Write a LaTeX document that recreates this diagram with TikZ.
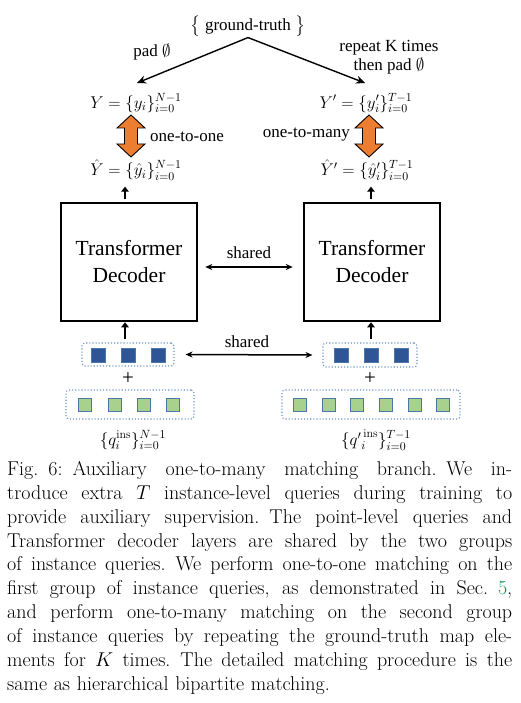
\RequirePackage{fix-cm}
\documentclass[tikz,border=0pt]{standalone}
\usepackage{amsmath}
\usepackage{fontspec}
\newfontfamily\figfont{Liberation Serif}
\usetikzlibrary{arrows.meta,positioning}

\definecolor{qblue}{HTML}{2F5597}
\definecolor{qedge}{HTML}{4A76A8}
\definecolor{qgreen}{HTML}{A9D18E}
\definecolor{dotblue}{HTML}{6A8FC0}
\definecolor{matchorange}{HTML}{ED7D31}
\definecolor{refgreen}{RGB}{0,150,70}

\newcommand{\capline}[1]{\hbox to 505pt{\spaceskip=0.3333em plus 1em minus 0.08em\relax#1}}

\tikzset{
  pics/matcharrow/.style={code={
    \draw[fill=matchorange,line width=0.9pt,line join=miter]
      (0,-21) -- (14,-8) -- (6.5,-8) -- (6.5,8) -- (14,8) -- (0,21)
      -- (-14,8) -- (-6.5,8) -- (-6.5,-8) -- (-14,-8) -- cycle;}}
}

\begin{document}
\begin{tikzpicture}[x=1pt,y=-1pt,
  lbl/.style={font=\figfont\fontsize{17}{19}\selectfont,inner sep=1pt},
  decbox/.style={draw,line width=2.6pt,minimum width=136pt,minimum height=118pt,
    align=center,font=\figfont\fontsize{21.5}{27}\selectfont},
  dotbox/.style={draw=dotblue,dotted,line width=1.1pt,rounded corners=3pt,inner sep=0pt},
  bsq/.style={draw=qedge,fill=qblue,line width=1pt,minimum size=14pt,inner sep=0pt},
  gsq/.style={draw=qedge,fill=qgreen,line width=1.2pt,minimum size=13pt,inner sep=0pt},
  gtarrow/.style={-{Stealth[length=9pt,width=8pt]},line width=1.4pt},
  sharearrow/.style={{Stealth[length=7pt,width=6pt]}-{Stealth[length=7pt,width=6pt]},line width=1.5pt},
  uparrow/.style={-{Triangle[length=5pt,width=7.5pt]},line width=2pt},
  captext/.style={font=\fontsize{20}{23.9}\selectfont,inner sep=0pt,text width=505pt,align=left}]
\useasboundingbox (0,0) rectangle (520,703);

% ground truth and padding
\node[lbl] (gt) at (248,26) {$\left\{\rule[-6pt]{0pt}{20pt}\right.$\,ground-truth\,$\left.\rule[-6pt]{0pt}{20pt}\right\}$};
\coordinate (tipL) at (137,83);
\coordinate (tipR) at (365,83);
\draw[gtarrow] (gt.south) -- (tipL);
\draw[gtarrow] (gt.south) -- (tipR);
\node[lbl] (padL) at (152,52) {pad $\emptyset$};
\node[lbl,align=center] (padR) at (389,57) {repeat K times\\then pad $\emptyset$};

% left branch: one-to-one
\node[lbl] (yL) at (136,103) {$Y=\{y_i\}_{i=0}^{N-1}$};
\pic at (131,136) {matcharrow};
\node[lbl,anchor=west] (o2o) at (149,137) {one-to-one};
\node[lbl] (yhatL) at (136,170) {$\hat{Y}=\{\hat{y}_i\}_{i=0}^{N-1}$};
\node[decbox] (decL) at (129,262) {Transformer\\Decoder};
\draw[uparrow] ([shift={(-4,-3)}]decL.north) -- ++(0,-12);

% right branch: one-to-many
\node[lbl] (yR) at (366,103) {$Y'=\{y'_i\}_{i=0}^{T-1}$};
\pic at (369,136) {matcharrow};
\node[lbl,anchor=east] (o2m) at (351,135) {one-to-many};
\node[lbl] (yhatR) at (367,170) {$\hat{Y}'=\{\hat{y}'_i\}_{i=0}^{T-1}$};
\node[decbox] (decR) at (372,262) {Transformer\\Decoder};
\draw[uparrow] ([shift={(-1,-3)}]decR.north) -- ++(0,-12);

\draw[sharearrow] ([shift={(7,5)}]decL.east) -- ([shift={(-10,5)}]decR.west);
\node[lbl] (sh1) at (249,253) {shared};

% point-level queries
\node[dotbox,minimum width=92pt,minimum height=23pt] (qbL) at (128,354.5) {};
\node[bsq] (bl1) at (98,355) {};
\node[bsq] (bl2) at (128,355) {};
\node[bsq] (bl3) at (158,355) {};
\node[dotbox,minimum width=94pt,minimum height=24pt] (qbR) at (370,355) {};
\node[bsq] (br1) at (341,355) {};
\node[bsq] (br2) at (371,355) {};
\node[bsq] (br3) at (401,355) {};
\draw[uparrow] ([shift={(-3,-3)}]qbL.north) -- ([xshift=-4]decL.south);
\draw[uparrow] ([shift={(1,-3)}]qbR.north) -- ([xshift=-1]decR.south);
\draw[sharearrow] ([xshift=11]qbL.east) -- ([xshift=-10]qbR.west);
\node[lbl] (sh2) at (247,342) {shared};

\node[lbl,font=\figfont\fontsize{21}{22}\selectfont] (plusL) at (128,379) {+};
\node[lbl,font=\figfont\fontsize{21}{22}\selectfont] (plusR) at (370,379) {+};

% instance queries
\node[dotbox,minimum width=128pt,minimum height=29pt] (qgL) at (130,404.5) {};
\node[gsq] (gl1) at (85,405) {};
\node[gsq] (gl2) at (115,405) {};
\node[gsq] (gl3) at (144,405) {};
\node[gsq] (gl4) at (173,405) {};
\node[dotbox,minimum width=178pt,minimum height=29pt] (qgR) at (371,404.5) {};
\node[gsq] (gr1) at (300,405) {};
\node[gsq] (gr2) at (329,405) {};
\node[gsq] (gr3) at (357,405) {};
\node[gsq] (gr4) at (386,405) {};
\node[gsq] (gr5) at (415,405) {};
\node[gsq] (gr6) at (443,405) {};
\node[lbl] (qL) at (133,440) {$\{q_i^{\mathrm{ins}}\}_{i=0}^{N-1}$};
\node[lbl] (qR) at (376,440) {$\{{q'}_i^{\,\mathrm{ins}}\}_{i=0}^{T-1}$};

% caption
\node[captext,anchor=north west] (cap) at (7,461) {%
\capline{Fig. 6: Auxiliary one-to-many matching branch. We in-}
\capline{troduce extra $T$ instance-level queries during training to}
\capline{provide auxiliary supervision. The point-level queries and}
\capline{Transformer decoder layers are shared by the two groups}
\capline{of instance queries. We perform one-to-one matching on the}
\capline{first group of instance queries, as demonstrated in Sec. \textcolor{refgreen}{5},}
\capline{and perform one-to-many matching on the second group}
\capline{of instance queries by repeating the ground-truth map ele-}
\capline{ments for $K$ times. The detailed matching procedure is the}
\hbox{same as hierarchical bipartite matching.}};
\end{tikzpicture}
\end{document}
